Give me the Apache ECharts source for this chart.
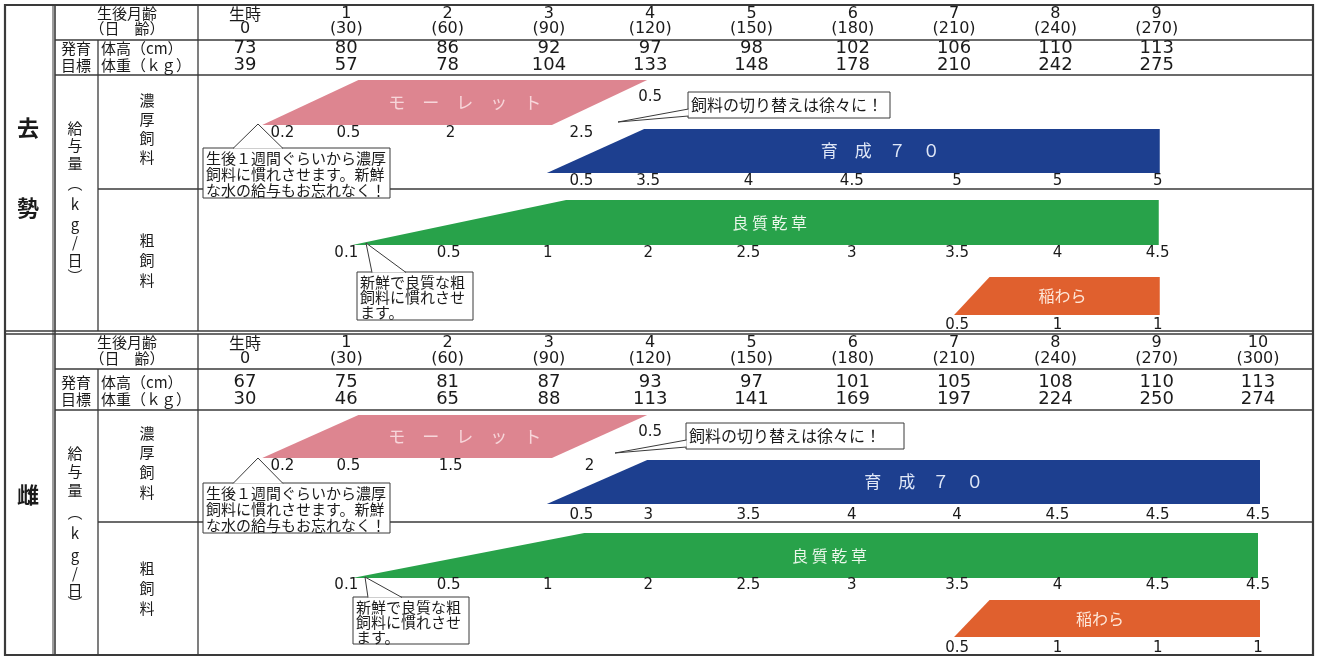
<!DOCTYPE html>
<html><head><meta charset="utf-8">
<script src="https://cdn.jsdelivr.net/npm/echarts@6/dist/echarts.min.js"></script>
<style>html,body{margin:0;padding:0;background:#fff}#c{width:1317px;height:658px}</style>
</head><body><div id="c"></div>
<script>
// ---------------- DATA ----------------
// 去勢 (castrated males)
const monthsC = [0,1,2,3,4,5,6,7,8,9];
const heightC = [73,80,86,92,97,98,102,106,110,113];
const weightC = [39,57,78,104,133,148,178,210,242,275];
// 雌 (females)
const monthsF = [0,1,2,3,4,5,6,7,8,9,10];
const heightF = [67,75,81,87,93,97,101,105,108,110,113];
const weightF = [30,46,65,88,113,141,169,197,224,250,274];

// feed amounts (kg/day) as [month, amount]
const pelletC     = [[0.37,0.2],[1.02,0.5],[2.03,2],[3.32,2.5]];
const pelletEndC  = [[4.0,0.5]];
const ikusei70C   = [[3.32,0.5],[3.98,3.5],[4.97,4],[5.99,4.5],[7.03,5],[8.02,5],[9.01,5]];
const hayC        = [[1.0,0.1],[2.01,0.5],[2.99,1],[3.98,2],[4.97,2.5],[5.99,3],[7.03,3.5],[8.02,4],[9.01,4.5]];
const strawC      = [[7.03,0.5],[8.02,1],[9.01,1]];

const pelletF     = [[0.37,0.2],[1.02,0.5],[2.03,1.5],[3.4,2]];
const pelletEndF  = [[4.0,0.5]];
const ikusei70F   = [[3.32,0.5],[3.98,3],[4.97,3.5],[5.99,4],[7.03,4],[8.02,4.5],[9.01,4.5],[10.0,4.5]];
const hayF        = [[1.0,0.1],[2.01,0.5],[2.99,1],[3.98,2],[4.97,2.5],[5.99,3],[7.03,3.5],[8.02,4],[9.01,4.5],[10.0,4.5]];
const strawF      = [[7.03,0.5],[8.02,1],[9.01,1],[10.0,1]];

// feeding periods in months: [ramp start, full amount, full end, taper end]
const pelletPeriodC = [0.17,1.12,3.97,3.03];
const ikuseiPeriodC = [2.98,3.94,9.03,9.03];
const hayPeriodC    = [1.06,3.17,9.02,9.02];
const strawPeriodC  = [7.0,7.35,9.03,9.03];
const pelletPeriodF = [0.17,1.12,3.97,3.03];
const ikuseiPeriodF = [2.98,3.97,10.02,10.02];
const hayPeriodF    = [1.06,3.35,10.0,10.0];
const strawPeriodF  = [7.0,7.35,10.02,10.02];

// ---------------- LAYOUT / STYLE ----------------
const FONT = '"Noto Sans CJK JP","Noto Sans",sans-serif';
const NFONT = '"DejaVu Sans","Noto Sans CJK JP",sans-serif';
const LINE = '#3a3a3a';
const COL = {pellet:'#dd8590', ikusei:'#1d3f8f', hay:'#28a24a', straw:'#e0602e'};
const TXT = {pellet:'#f7d6da', ikusei:'#dfe7f7', hay:'#eaf7ea', straw:'#fde6d8'};
const secC = {monthY:14, dayY:29, hY:48, wY:65, pink:[80,125], pinkLbl:133, pinkEnd:97,
  blue:[129,173], blueLbl:181, green:[200,245], greenLbl:253, orange:[277,315], orangeLbl:325,
  pinkTx:2.17, blueTx:6.27, greenTx:5.18, orangeTx:8.07};
const secF = {monthY:343, dayY:359, hY:382, wY:399, pink:[415,458], pinkLbl:466, pinkEnd:432,
  blue:[460,504], blueLbl:515, green:[533,578], greenLbl:585, orange:[600,637], orangeLbl:648,
  pinkTx:2.17, blueTx:6.7, greenTx:5.77, orangeTx:8.44};

const g = [];
function L(x1,y1,x2,y2,w){ g.push({type:'line',silent:true,shape:{x1,y1,x2,y2},style:{stroke:LINE,lineWidth:w||1.3}}); }
function T(x,y,text,size,extra,font){ g.push({type:'text',silent:true,z:10,x,y,style:Object.assign({text,font:size+'px '+(font||FONT),fill:'#1a1a1a',align:'center',verticalAlign:'middle'},extra||{})}); }
function VT(x,ys,chars,size,extra){ chars.forEach((c,i)=>T(x,ys[i],c,size,extra)); }

// frame
g.push({type:'rect',silent:true,shape:{x:5,y:5,width:1308,height:650},style:{fill:'none',stroke:LINE,lineWidth:2.2}});
L(5,331,1313,331,1.6); L(5,334,1313,334,1.6);
L(55,5,55,655,1.6); L(53,5,53,655,1);
L(98,40,98,331); L(98,369,98,655);
L(198,5,198,331); L(198,334,198,655);
L(55,40,1313,40); L(55,75,1313,75); L(98,189,1313,189);
L(55,369,1313,369); L(55,410,1313,410); L(98,522,1313,522);

// left labels
T(28,128,'去','bold 22'); T(28,208,'勢','bold 22'); T(28,495,'雌','bold 22');
VT(75,[128,145,163,183,204,224,242,260,276],['給','与','量','︵','k','g','/','日','︶'],15);
VT(75,[453,471,490,512,533,555,573,590,603],['給','与','量','︵','k','g','/','日','︶'],15);
VT(147,[100,119,138,157],['濃','厚','飼','料'],15);
VT(147,[240,260,280],['粗','飼','料'],15);
VT(147,[433,452,472,492],['濃','厚','飼','料'],15);
VT(147,[568,588,608],['粗','飼','料'],15);
[secC,secF].forEach(s=>{
  T(127,s.monthY-1,'生後月齢',15); T(127,s.dayY-1,'（日　齢）',15);
  T(76,s.hY,'発育',15); T(76,s.wY,'目標',15);
  T(101,s.hY,'体高（cm）',15,{align:'left'}); T(101,s.wY,'体重（ｋｇ）',15,{align:'left'});
});

// callouts
function box(x,y,w,h,lines,size,ly){
  g.push({type:'rect',silent:true,z:8,shape:{x,y,width:w,height:h},style:{fill:'#fff',stroke:LINE,lineWidth:1}});
  lines.forEach((t,i)=>T(x+3,y+ly[i],t,size,{align:'left'}));
}
function pointer(pts){ g.push({type:'polyline',silent:true,z:9,shape:{points:pts},style:{stroke:LINE,lineWidth:1,fill:'#fff'}}); }
const c1 = ['生後１週間ぐらいから濃厚','飼料に慣れさせます。新鮮','な水の給与もお忘れなく！'];
const c3 = ['新鮮で良質な粗','飼料に慣れさせ','ます。'];
box(203,148,187,50,c1,15,[10,26,42]); pointer([[233,148.5],[258,124],[283,148.5]]);
box(203,483,187,50,c1,15,[10,26,42]); pointer([[233,483.5],[258,458],[283,483.5]]);
box(688,92,202,26,['飼料の切り替えは徐々に！'],16,[13]); pointer([[688.5,109],[618,122],[688.5,116]]);
box(686,423,218,26,['飼料の切り替えは徐々に！'],16,[13]); pointer([[686.5,440],[615,453],[686.5,447]]);
box(357,272,116,48,c3,15,[10,25,40]); pointer([[372,272.5],[366,243],[406,272.5]]);
box(353,597,116,47,c3,15,[10,25,40]); pointer([[368,597.5],[365,577],[402,597.5]]);

// ---------------- SERIES ----------------
function textSeries(data, rowY, size, fmt, font){
  return {type:'custom',clip:false,silent:true,z:5,data:data,
    renderItem:function(p,api){
      const pt = api.coord([api.value(0), rowY]);
      const t = fmt(api.value(0),api.value(1));
      return {type:'text',x:pt[0],y:pt[1],style:{text:t,font:size+'px '+(t==='生時'?FONT:(font||NFONT)),fill:'#1a1a1a',align:'center',verticalAlign:'middle'}};
    }};
}
function bandSeries(period, yr, color, label, labelX, labelColor, labelSize){
  return {type:'custom',clip:false,silent:true,z:3,data:[period],
    renderItem:function(p,api){
      const bl=api.coord([api.value(0),yr[1]]), tl=api.coord([api.value(1),yr[0]]),
            tr=api.coord([api.value(2),yr[0]]), br=api.coord([api.value(3),yr[1]]);
      const lp=api.coord([labelX,(yr[0]+yr[1])/2]);
      return {type:'group',children:[
        {type:'polygon',shape:{points:[bl,tl,tr,br]},style:{fill:color}},
        {type:'text',x:lp[0],y:lp[1],style:{text:label,font:labelSize+'px '+FONT,fill:labelColor,align:'center',verticalAlign:'middle'}}
      ]};
    }};
}
const num = (m,v)=>String(v);
function pairs(ms,vals){ return ms.map((m,i)=>[m,vals[i]]); }
const series = [];
[[secC,monthsC,heightC,weightC,pelletC,pelletEndC,ikusei70C,hayC,strawC,pelletPeriodC,ikuseiPeriodC,hayPeriodC,strawPeriodC],
 [secF,monthsF,heightF,weightF,pelletF,pelletEndF,ikusei70F,hayF,strawF,pelletPeriodF,ikuseiPeriodF,hayPeriodF,strawPeriodF]]
.forEach(([s,ms,hs,ws,pel,pelE,ik,hay,st,pP,iP,hP,sP])=>{
  series.push(textSeries(ms.map(m=>[m,m]), s.monthY, 16, (m,v)=> v===0?'生時':String(v)));
  series.push(textSeries(ms.map(m=>[m,m*30]), s.dayY, 16, (m,v)=> v===0?'0':'('+v+')'));
  series.push(textSeries(pairs(ms,hs), s.hY, 18, num));
  series.push(textSeries(pairs(ms,ws), s.wY, 18, num));
  series.push(bandSeries(pP, s.pink, COL.pellet, 'モ　ー　レ　ッ　ト', s.pinkTx, TXT.pellet, 17));
  series.push(bandSeries(iP, s.blue, COL.ikusei, '育　成　７　０', s.blueTx, TXT.ikusei, 17));
  series.push(bandSeries(hP, s.green, COL.hay, '良 質 乾 草', s.greenTx, TXT.hay, 16));
  series.push(bandSeries(sP, s.orange, COL.straw, '稲わら', s.orangeTx, TXT.straw, 16));
  series.push(textSeries(pel, s.pinkLbl, 15, num));
  series.push(textSeries(pelE, s.pinkEnd, 15, num));
  series.push(textSeries(ik, s.blueLbl, 15, num));
  series.push(textSeries(hay, s.greenLbl, 15, num));
  series.push(textSeries(st, s.orangeLbl, 15, num));
});

const chart = echarts.init(document.getElementById('c'));
chart.setOption({
  animation:false,
  backgroundColor:'#fff',
  grid:{left:245,right:59,top:0,bottom:0},
  xAxis:{type:'value',min:0,max:10,show:false},
  yAxis:{type:'value',min:0,max:658,inverse:true,show:false},
  graphic:{elements:g},
  series:series
});
</script></body></html>
